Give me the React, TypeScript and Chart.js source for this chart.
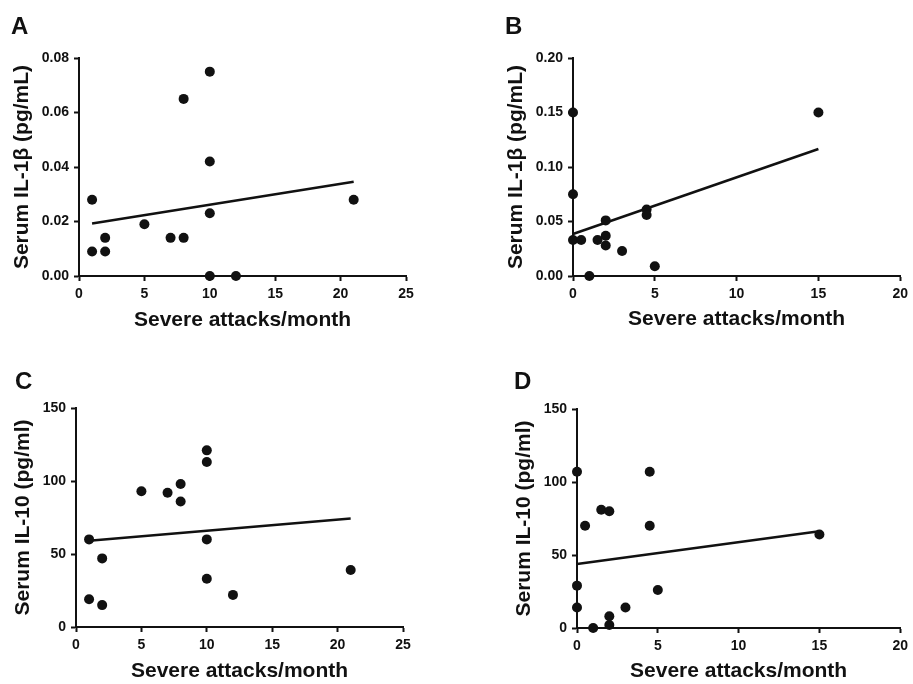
import { useEffect, useRef } from 'react';
import { Chart, registerables } from 'chart.js';

Chart.register(...registerables);

const FONT = '"Liberation Sans", Arial, Helvetica, sans-serif';
const INK = '#111';

// A: serum IL-1β vs severe attacks/month
const attacksA = [1, 1, 2, 2, 5, 7, 8, 8, 10, 10, 10, 10, 12, 21];
const il1bA = [0.028, 0.009, 0.014, 0.009, 0.019, 0.014, 0.014, 0.065, 0.075, 0.042, 0.023, 0, 0, 0.028];
const fitXA = [1, 21];
const fitYA = [0.0193, 0.0346];

// B: serum IL-1β, second group
const attacksB = [0, 0, 0, 0.5, 1, 1.5, 2, 2, 2, 3, 4.5, 4.5, 5, 15];
const il1bB = [0.15, 0.075, 0.033, 0.033, 0, 0.033, 0.051, 0.037, 0.028, 0.023, 0.061, 0.056, 0.009, 0.15];
const fitXB = [0, 15];
const fitYB = [0.0385, 0.1165];

// C: serum IL-10
const attacksC = [1, 1, 2, 2, 5, 7, 8, 8, 10, 10, 10, 10, 12, 21];
const il10C = [60, 19, 47, 15, 93, 92, 98, 86, 121, 113, 60, 33, 22, 39];
const fitXC = [1, 21];
const fitYC = [59, 74.3];

// D: serum IL-10, second group
const attacksD = [0, 0, 0, 0.5, 1, 1.5, 2, 2, 2, 3, 4.5, 4.5, 5, 15];
const il10D = [107, 29, 14, 70, 0, 81, 80, 8, 2, 14, 107, 70, 26, 64];
const fitXD = [0, 15];
const fitYD = [43.8, 66.3];

const X_TITLE = 'Severe attacks/month';

interface PanelProps {
  letter: string;
  left: number;
  top: number;
  width: number;
  height: number;
  // plot area inside the canvas
  area: { l: number; r: number; t: number; b: number };
  xs: number[];
  ys: number[];
  fitX: number[];
  fitY: number[];
  xMax: number;
  yMax: number;
  yStep: number;
  yDecimals: number;
  yTitle: string;
  yTitlePad: number;
  xTitlePad: number;
  letterPos: { x: number; y: number };
}

function Panel(p: PanelProps) {
  const canvasRef = useRef<HTMLCanvasElement>(null);

  useEffect(() => {
    if (!canvasRef.current) return;
    const points = p.xs.map((x, i) => ({ x, y: p.ys[i] }));
    const fit = p.fitX.map((x, i) => ({ x, y: p.fitY[i] }));

    const grid = {
      display: true,
      drawOnChartArea: false,
      drawTicks: true,
      tickLength: 5,
      tickWidth: 2,
      tickColor: INK,
      color: INK,
    };
    const border = { display: true, color: INK, width: 2 };

    const chart = new Chart(canvasRef.current, {
      type: 'scatter',
      data: {
        datasets: [
          {
            data: points,
            pointRadius: 5,
            pointBackgroundColor: INK,
            pointBorderColor: INK,
            pointBorderWidth: 0,
            clip: false,
          },
          {
            data: fit,
            showLine: true,
            borderColor: INK,
            borderWidth: 2.5,
            pointRadius: 0,
            clip: false,
          },
        ],
      },
      options: {
        animation: false,
        responsive: true,
        maintainAspectRatio: false,
        events: [],
        layout: {
          padding: { left: 0, top: p.area.t, right: p.width - p.area.r, bottom: 0 },
        },
        plugins: { legend: { display: false }, tooltip: { enabled: false } },
        scales: {
          x: {
            type: 'linear',
            min: 0,
            max: p.xMax,
            grid,
            border,
            ticks: {
              stepSize: 5,
              color: INK,
              padding: 5,
              font: { family: FONT, size: 14, weight: 'bold' },
            },
            title: {
              display: true,
              text: X_TITLE,
              color: INK,
              padding: { top: 0, bottom: p.xTitlePad },
              font: { family: FONT, size: 21, weight: 'bold' },
            },
            afterFit: (s: any) => {
              s.height = p.height - p.area.b;
            },
          },
          y: {
            type: 'linear',
            min: 0,
            max: p.yMax,
            grid,
            border,
            ticks: {
              stepSize: p.yStep,
              color: INK,
              padding: 5,
              font: { family: FONT, size: 14, weight: 'bold' },
              callback: (v: any) => Number(v).toFixed(p.yDecimals),
            },
            title: {
              display: true,
              text: p.yTitle,
              color: INK,
              padding: { top: p.yTitlePad, bottom: 0 },
              font: { family: FONT, size: 21, weight: 'bold' },
            },
            afterFit: (s: any) => {
              s.width = p.area.l;
            },
          },
        },
      },
    });

    return () => chart.destroy();
  }, []);

  return (
    <>
      <div
        style={{
          position: 'absolute',
          left: p.left,
          top: p.top,
          width: p.width,
          height: p.height,
        }}
      >
        <canvas ref={canvasRef} />
      </div>
      <div
        style={{
          position: 'absolute',
          left: p.letterPos.x,
          top: p.letterPos.y,
          fontFamily: FONT,
          fontWeight: 'bold',
          fontSize: 24,
          lineHeight: '24px',
          color: INK,
        }}
      >
        {p.letter}
      </div>
    </>
  );
}

export default function App() {
  return (
    <div
      style={{
        position: 'absolute',
        left: 0,
        top: 0,
        width: 913,
        height: 684,
        background: '#fff',
        overflow: 'hidden',
      }}
    >
      <Panel
        letter="A"
        left={0}
        top={0}
        width={456}
        height={342}
        area={{ l: 79, r: 406, t: 58, b: 276 }}
        xs={attacksA}
        ys={il1bA}
        fitX={fitXA}
        fitY={fitYA}
        xMax={25}
        yMax={0.08}
        yStep={0.02}
        yDecimals={2}
        yTitle="Serum IL-1β (pg/mL)"
        yTitlePad={10}
        xTitlePad={9}
        letterPos={{ x: 11, y: 14 }}
      />
      <Panel
        letter="B"
        left={456}
        top={0}
        width={457}
        height={342}
        area={{ l: 117, r: 446, t: 58, b: 276 }}
        xs={attacksB}
        ys={il1bB}
        fitX={fitXB}
        fitY={fitYB}
        xMax={20}
        yMax={0.2}
        yStep={0.05}
        yDecimals={2}
        yTitle="Serum IL-1β (pg/mL)"
        yTitlePad={48}
        xTitlePad={10}
        letterPos={{ x: 505, y: 14 }}
      />
      <Panel
        letter="C"
        left={0}
        top={342}
        width={456}
        height={342}
        area={{ l: 76, r: 403, t: 66, b: 285 }}
        xs={attacksC}
        ys={il10C}
        fitX={fitXC}
        fitY={fitYC}
        xMax={25}
        yMax={150}
        yStep={50}
        yDecimals={0}
        yTitle="Serum IL-10 (pg/ml)"
        yTitlePad={11}
        xTitlePad={0}
        letterPos={{ x: 15, y: 369 }}
      />
      <Panel
        letter="D"
        left={456}
        top={342}
        width={457}
        height={342}
        area={{ l: 121, r: 449, t: 67, b: 286 }}
        xs={attacksD}
        ys={il10D}
        fitX={fitXD}
        fitY={fitYD}
        xMax={20}
        yMax={150}
        yStep={50}
        yDecimals={0}
        yTitle="Serum IL-10 (pg/ml)"
        yTitlePad={56}
        xTitlePad={0}
        letterPos={{ x: 514, y: 369 }}
      />
    </div>
  );
}
